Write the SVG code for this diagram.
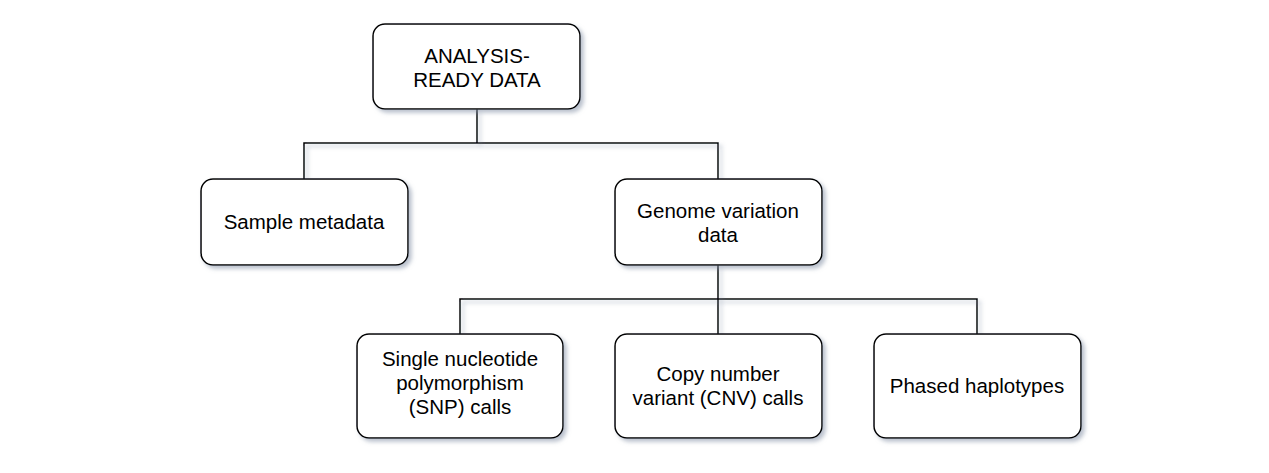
<svg xmlns="http://www.w3.org/2000/svg" width="1269" height="473" viewBox="0 0 1269 473">
<style>
.box{fill:#fff;stroke:#000;stroke-width:1.5;filter:url(#sh)}
.t{font-family:"Liberation Sans",Arial,sans-serif;font-size:20.5px;fill:#000;text-anchor:middle}
.c{fill:none;stroke:#000;stroke-width:1.5}
</style>
<defs>
<filter id="sh" x="-10%" y="-10%" width="130%" height="140%">
<feDropShadow dx="3" dy="3" stdDeviation="2" flood-color="#8a96aa" flood-opacity="0.6"/>
</filter>
</defs>
<rect width="1269" height="473" fill="#fff"/>
<g id="connectors">
<path class="c" d="M477 109V143M304 179V143H718V179" filter="url(#sh)"/>
<path class="c" d="M718 265V299M460 334V299H977V334M718 299V334" filter="url(#sh)"/>
</g>
<g id="n1"><rect class="box" x="373" y="24" width="207" height="85" rx="12"/><text class="t" x="477" y="63">ANALYSIS-</text><text class="t" x="477" y="87">READY DATA</text></g>
<g id="n2"><rect class="box" x="201" y="179" width="207" height="86" rx="12"/><text class="t" x="304" y="229">Sample metadata</text></g>
<g id="n3"><rect class="box" x="615" y="179" width="207" height="86" rx="12"/><text class="t" x="718" y="218">Genome variation</text><text class="t" x="718" y="242">data</text></g>
<g id="n4"><rect class="box" x="357" y="334" width="206" height="104" rx="12"/><text class="t" x="460" y="366">Single nucleotide</text><text class="t" x="460" y="390">polymorphism</text><text class="t" x="460" y="414">(SNP) calls</text></g>
<g id="n5"><rect class="box" x="615" y="334" width="207" height="104" rx="12"/><text class="t" x="718" y="381">Copy number</text><text class="t" x="718" y="405">variant (CNV) calls</text></g>
<g id="n6"><rect class="box" x="874" y="334" width="207" height="104" rx="12"/><text class="t" x="977" y="393">Phased haplotypes</text></g>
</svg>
